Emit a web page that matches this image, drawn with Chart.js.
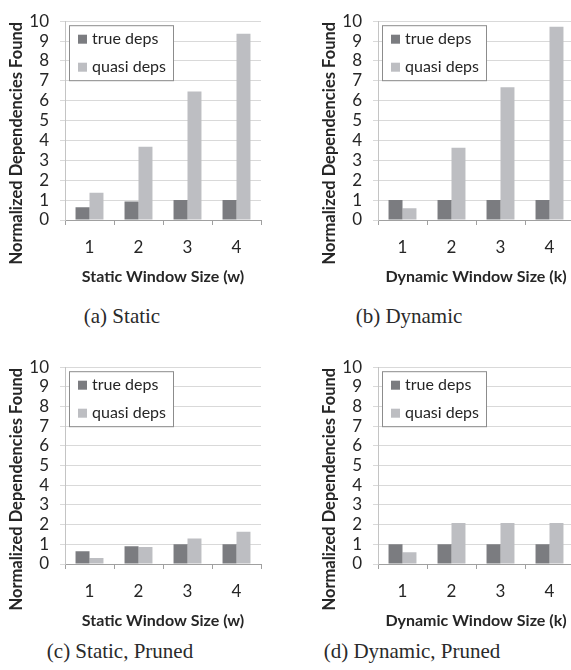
<!DOCTYPE html>
<html>
<head>
<meta charset="utf-8">
<script src="https://cdn.jsdelivr.net/npm/chart.js@4"></script>
<style>
  html, body { margin: 0; padding: 0; background: #fff; }
  body { width: 571px; height: 670px; position: relative; overflow: hidden; }
  .panel { position: absolute; }
  .caption {
    position: absolute;
    font-family: "Liberation Serif", serif;
    font-size: 21px;
    color: #2a2a2a;
    transform: translateX(-50%);
    white-space: nowrap;
  }
</style>
</head>
<body>
<div class="panel" style="left:0;top:0"><canvas id="chartA" width="285" height="290"></canvas></div>
<div class="panel" style="left:313px;top:0"><canvas id="chartB" width="285" height="290"></canvas></div>
<div class="panel" style="left:0;top:346px"><canvas id="chartC" width="285" height="288"></canvas></div>
<div class="panel" style="left:313px;top:346px"><canvas id="chartD" width="285" height="288"></canvas></div>

<div class="caption" style="left:122px;top:304px">(a) Static</div>
<div class="caption" style="left:409px;top:304px">(b) Dynamic</div>
<div class="caption" style="left:120px;top:639px">(c) Static, Pruned</div>
<div class="caption" style="left:412px;top:639px">(d) Dynamic, Pruned</div>

<script>
// ----- data -----
const windowSizes = ['1', '2', '3', '4'];
const seriesNames = ['true deps', 'quasi deps'];

const staticTrue = [0.64, 0.93, 1.0, 1.0];
const staticQuasi = [1.37, 3.68, 6.47, 9.37];

const dynamicTrue = [1.0, 1.0, 1.0, 1.0];
const dynamicQuasi = [0.59, 3.64, 6.68, 9.72];

const staticPrunedTrue = [0.65, 0.9, 1.0, 1.0];
const staticPrunedQuasi = [0.3, 0.86, 1.3, 1.64];

const dynamicPrunedTrue = [1.0, 1.0, 1.0, 1.0];
const dynamicPrunedQuasi = [0.6, 2.08, 2.08, 2.08];

const yTickValues = [0, 1, 2, 3, 4, 5, 6, 7, 8, 9, 10];
const yTitle = 'Normalized Dependencies Found';

const DARK = '#7b7c80';
const LIGHT = '#bdbec2';
const TEXT = '#262626';

// legend drawn inside the plot area with a border, like the original
const boxLegend = {
    id: 'boxLegend',
    afterDatasetsDraw(chart) {
        const ctx = chart.ctx;
        const area = chart.chartArea;
        const x = area.left + 4;
        const y = area.top + 4;
        ctx.save();
        ctx.fillStyle = '#fff';
        ctx.fillRect(x, y, 104, 55);
        ctx.strokeStyle = '#8c8c8c';
        ctx.lineWidth = 1;
        ctx.strokeRect(x + 0.5, y + 0.5, 104, 55);
        ctx.font = '16px Lato';
        ctx.textBaseline = 'middle';
        chart.data.datasets.forEach((ds, i) => {
            const cy = y + 14 + i * 28;
            ctx.fillStyle = ds.backgroundColor;
            ctx.fillRect(x + 9, cy - 4.5, 9, 9);
            ctx.fillStyle = TEXT;
            ctx.fillText(ds.label, x + 23, cy);
        });
        ctx.restore();
    }
};

// y title is centred on the whole panel (not only the plot), so draw it by hand
const sideTitle = {
    id: 'sideTitle',
    afterDraw(chart) {
        const ctx = chart.ctx;
        ctx.save();
        ctx.translate(17, chart.chartArea.top + 122);
        ctx.rotate(-Math.PI / 2);
        ctx.font = 'bold 16.5px Lato';
        ctx.fillStyle = TEXT;
        ctx.textAlign = 'center';
        ctx.textBaseline = 'middle';
        ctx.fillText(yTitle, 0, 0);
        ctx.restore();
    }
};

function makeChart(canvasId, xTitle, trueVals, quasiVals) {
    const canvas = document.getElementById(canvasId);
    return new Chart(canvas, {
        type: 'bar',
        data: {
            labels: windowSizes,
            datasets: [
                { label: seriesNames[0], data: trueVals, backgroundColor: DARK },
                { label: seriesNames[1], data: quasiVals, backgroundColor: LIGHT }
            ]
        },
        options: {
            responsive: false,
            animation: false,
            devicePixelRatio: 1,
            layout: { padding: { top: 16, right: 24, left: 0, bottom: 0 } },
            datasets: { bar: { categoryPercentage: 0.57, barPercentage: 1.0 } },
            plugins: { legend: { display: false }, tooltip: { enabled: false } },
            scales: {
                x: {
                    grid: {
                        display: true,
                        drawOnChartArea: false,
                        drawTicks: true,
                        tickLength: 5,
                        color: '#a0a0a0'
                    },
                    border: { color: '#a0a0a0' },
                    ticks: { color: TEXT, font: { family: 'Lato', size: 17 }, padding: 12 },
                    title: {
                        display: true,
                        text: xTitle,
                        color: TEXT,
                        font: { family: 'Lato', size: 16, weight: 'bold' }
                    },
                    afterFit(scale) { scale.height = 70; }
                },
                y: {
                    min: 0,
                    max: 10,
                    afterBuildTicks(scale) {
                        scale.ticks = yTickValues.map(v => ({ value: v }));
                    },
                    grid: { color: '#d9d9d9', tickLength: 5 },
                    border: { color: '#c4c4c4' },
                    ticks: {
                        color: TEXT,
                        autoSkip: false,
                        font: { family: 'Lato', size: 17 },
                        padding: 11
                    },
                    afterFit(scale) { scale.width = 65; }
                }
            }
        },
        plugins: [boxLegend, sideTitle]
    });
}

makeChart('chartA', 'Static Window Size (w)', staticTrue, staticQuasi);
makeChart('chartB', 'Dynamic Window Size (k)', dynamicTrue, dynamicQuasi);
makeChart('chartC', 'Static Window Size (w)', staticPrunedTrue, staticPrunedQuasi);
makeChart('chartD', 'Dynamic Window Size (k)', dynamicPrunedTrue, dynamicPrunedQuasi);
</script>
</body>
</html>
